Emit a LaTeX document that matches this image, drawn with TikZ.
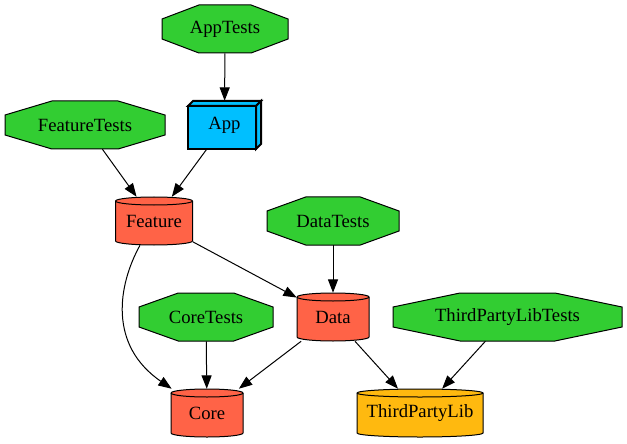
\documentclass[tikz,border=0pt]{standalone}
\usepackage{fontspec}
\setmainfont{Liberation Serif}
\newfontfamily\tnrfont{Liberation Serif}
\usetikzlibrary{arrows.meta}
\definecolor{cgreen}{HTML}{32CD32}
\definecolor{cblue}{HTML}{00BFFF}
\definecolor{ctomato}{HTML}{FF6347}
\definecolor{cgold}{HTML}{FFB90F}
\tikzset{
  lbl/.style={shape=rectangle, draw=none, inner sep=0pt, minimum height=36pt, font=\tnrfont\fontsize{14}{16}\selectfont},
  octst/.style={draw=black, fill=cgreen, line width=0.75pt, line join=miter},
  cylst/.style={draw=black, line width=0.75pt},
  edge/.style={draw=black, line width=0.75pt, -{Triangle[length=10pt,width=7.5pt]}},
}
\newcommand\octnode[5]{%
  \pgfmathsetmacro\octA{#4/2}\pgfmathsetmacro\octB{0.2071*#4}%
  \draw[octst] (#2-\octB,#3+24) -- (#2+\octB,#3+24) -- (#2+\octA,#3+10) -- (#2+\octA,#3-10)
    -- (#2+\octB,#3-24) -- (#2-\octB,#3-24) -- (#2-\octA,#3-10) -- (#2-\octA,#3+10) -- cycle;
  \node[lbl, minimum width=#4*0.75pt] (#1) at (#2,#3) {#5};}
\newcommand\cylnode[6]{%
  \pgfmathsetmacro\cylR{#4/2}\pgfmathsetmacro\cylRpt{#4*0.375}%
  \draw[cylst, fill=#5] (#2-\cylR,#3+20) -- (#2-\cylR,#3-20)
    arc[start angle=180, end angle=360, x radius=\cylRpt pt, y radius=3pt]
    -- (#2+\cylR,#3+20)
    arc[start angle=0, end angle=180, x radius=\cylRpt pt, y radius=3pt] -- cycle;
  \draw[cylst] (#2-\cylR,#3+20) arc[start angle=180, end angle=360, x radius=\cylRpt pt, y radius=3pt];
  \node[lbl, minimum width=#4*0.75pt] (#1) at (#2,#3) {#6};}
\begin{document}
\begin{tikzpicture}[x=0.75pt, y=0.75pt]
\useasboundingbox (0,0) rectangle (627,443);
% octagons
\octnode{AppTests}{225}{414}{126}{AppTests}
\octnode{FeatureTests}{85}{318}{160}{FeatureTests}
\octnode{DataTests}{333}{222}{132}{DataTests}
\octnode{CoreTests}{206}{126}{134}{CoreTests}
\octnode{TPLTests}{507.5}{126}{229}{ThirdPartyLibTests}
% App box3d
\begin{scope}[line width=1.5pt, line join=miter]
  \filldraw[fill=cblue] (188,294) rectangle (256,337);
  \filldraw[fill=cblue] (188,337) -- (193,342) -- (261,342) -- (256,337) -- cycle;
  \filldraw[fill=cblue] (256,337) -- (261,342) -- (261,299) -- (256,294) -- cycle;
\end{scope}
\node[lbl, minimum width=54.75pt] (App) at (224.5,318) {App};
% cylinders
\cylnode{Feature}{154}{222}{77}{ctomato}{Feature}
\cylnode{Data}{333}{126}{72}{ctomato}{Data}
\cylnode{Core}{207}{30}{72}{ctomato}{Core}
\cylnode{TPL}{420}{30}{126}{cgold}{ThirdPartyLib}
% edges
\draw[edge] (AppTests) -- (App);
\draw[edge] (FeatureTests) -- (Feature);
\draw[edge] (App) -- (Feature);
\draw[edge] (Feature) -- (Data);
\draw[edge] ([xshift=-10.5pt]Feature.south) .. controls (118,158) and (108,98) .. (Core);
\draw[edge] (DataTests) -- (Data);
\draw[edge] (CoreTests) -- (Core);
\draw[edge] (Data) -- (Core);
\draw[edge] (Data) -- (TPL);
\draw[edge] (TPLTests) -- (TPL);
\end{tikzpicture}
\end{document}
